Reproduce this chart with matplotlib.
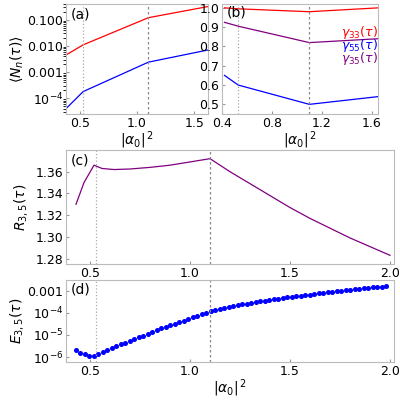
import numpy as np
import matplotlib
matplotlib.use("Agg")
import matplotlib.pyplot as plt

plt.rcParams["font.family"] = ["DejaVu Sans"]
plt.rcParams["mathtext.fontset"] = "dejavusans"

# panel (a): <N_n(tau)>
xa = [0.38, 0.53, 1.10, 1.62]
na_red = [0.0045, 0.011, 0.12, 0.32]
na_blue = [4e-5, 1.8e-4, 2.4e-3, 7e-3]

# panel (b): gamma
xb = [0.42, 0.53, 1.10, 1.65]
g33 = [1.0, 0.995, 0.98, 1.0]
g35 = [0.925, 0.905, 0.82, 0.84]
g55 = [0.65, 0.60, 0.50, 0.54]

# panel (c): R_{3,5}
xc = [0.43, 0.47, 0.52, 0.56, 0.62, 0.7, 0.8, 0.9, 1.0, 1.1, 1.2, 1.3, 1.4, 1.5, 1.6, 1.7, 1.8, 1.9, 2.0]
rc = [1.330, 1.350, 1.366, 1.363, 1.362, 1.3625, 1.364, 1.366, 1.369, 1.372,
      1.360, 1.349, 1.338, 1.327, 1.317, 1.308, 1.299, 1.291, 1.283]

# panel (d): log10 E_{3,5}
xd = np.linspace(0.43, 1.98, 70)
log_e = [-5.70, -5.80, -5.88, -5.93, -5.93, -5.88, -5.79, -5.70, -5.61, -5.52,
         -5.43, -5.35, -5.27, -5.19, -5.11, -5.03, -4.95, -4.87, -4.79, -4.71,
         -4.63, -4.56, -4.49, -4.42, -4.35, -4.28, -4.21, -4.14, -4.07, -4.00,
         -3.92, -3.86, -3.81, -3.77, -3.73, -3.695, -3.66, -3.625, -3.59, -3.555,
         -3.52, -3.49, -3.46, -3.43, -3.40, -3.37, -3.34, -3.31, -3.28, -3.255,
         -3.23, -3.205, -3.18, -3.155, -3.13, -3.105, -3.08, -3.055, -3.03, -3.005,
         -2.98, -2.96, -2.94, -2.92, -2.90, -2.88, -2.86, -2.84, -2.82, -2.80]

v1, v2 = 0.53, 1.10
xlab = r"$|\alpha_0|^{\,2}$"

fig = plt.figure(figsize=(4, 4), dpi=100)
ax_a = fig.add_axes([0.165, 0.715, 0.355, 0.275])
ax_b = fig.add_axes([0.555, 0.715, 0.39, 0.275])
ax_c = fig.add_axes([0.165, 0.34, 0.82, 0.285])
ax_d = fig.add_axes([0.165, 0.095, 0.82, 0.205])

def style(ax):
    for s in ax.spines.values():
        s.set_color("#bbbbbb")
    ax.tick_params(labelsize=9, length=2, color="#999999", direction="in", pad=2)
    ax.axvline(v1, color="#aaaaaa", ls=":", lw=0.9)
    ax.axvline(v2, color="#888888", ls=(0, (2, 2)), lw=0.9)

ax_a.semilogy(xa, na_red, color="red", lw=0.9)
ax_a.semilogy(xa, na_blue, color="blue", lw=0.9)
ax_a.set_xlim(0.38, 1.62)
ax_a.set_ylim(2.5e-5, 0.4)
ax_a.set_xticks([0.5, 1.0, 1.5])
ax_a.set_yticks([1e-4, 1e-3, 1e-2, 1e-1])
ax_a.set_yticklabels([r"$10^{-4}$", "0.001", "0.010", "0.100"])
ax_a.set_ylabel(r"$\langle N_n(\tau)\rangle$", fontsize=10, labelpad=1)
ax_a.set_xlabel(xlab, fontsize=10, labelpad=0)
ax_a.text(0.03, 0.97, "(a)", transform=ax_a.transAxes, va="top", fontsize=10)
style(ax_a)

ax_b.plot(xb, g33, color="red", lw=0.9)
ax_b.plot(xb, g35, color="purple", lw=0.9)
ax_b.plot(xb, g55, color="blue", lw=0.9)
ax_b.set_xlim(0.4, 1.65)
ax_b.set_ylim(0.45, 1.02)
ax_b.set_xticks([0.4, 0.8, 1.2, 1.6])
ax_b.set_yticks([0.5, 0.6, 0.7, 0.8, 0.9, 1.0])
ax_b.set_xlabel(xlab, fontsize=10, labelpad=0)
ax_b.text(0.03, 0.99, "(b)", transform=ax_b.transAxes, va="top", fontsize=10)
for yy, txt, c in [(0.71, r"$\gamma_{33}(\tau)$", "red"),
                   (0.59, r"$\gamma_{55}(\tau)$", "blue"),
                   (0.47, r"$\gamma_{35}(\tau)$", "purple")]:
    ax_b.text(1.0, yy, txt, transform=ax_b.transAxes, ha="right", color=c, fontsize=9)
style(ax_b)

ax_c.plot(xc, rc, color="purple", lw=0.9)
ax_c.set_xlim(0.38, 2.02)
ax_c.set_ylim(1.275, 1.38)
ax_c.set_xticks([0.5, 1.0, 1.5, 2.0])
ax_c.set_yticks([1.28, 1.30, 1.32, 1.34, 1.36])
ax_c.set_ylabel(r"$R_{3,5}(\tau)$", fontsize=10)
ax_c.set_xlabel(xlab, fontsize=10, labelpad=0)
ax_c.text(0.015, 0.97, "(c)", transform=ax_c.transAxes, va="top", fontsize=10)
style(ax_c)

ax_d.semilogy(xd, 10 ** np.array(log_e), "o", color="blue", ms=2.6)
ax_d.set_xlim(0.38, 2.02)
ax_d.set_ylim(6e-7, 3e-3)
ax_d.set_xticks([0.5, 1.0, 1.5, 2.0])
ax_d.set_yticks([1e-6, 1e-5, 1e-4, 1e-3])
ax_d.set_yticklabels([r"$10^{-6}$", r"$10^{-5}$", r"$10^{-4}$", "0.001"])
ax_d.set_ylabel(r"$E_{3,5}(\tau)$", fontsize=10, labelpad=1)
ax_d.set_xlabel(xlab, fontsize=10, labelpad=0)
ax_d.text(0.015, 0.97, "(d)", transform=ax_d.transAxes, va="top", fontsize=10)
style(ax_d)

fig.savefig("out.png", dpi=100)
